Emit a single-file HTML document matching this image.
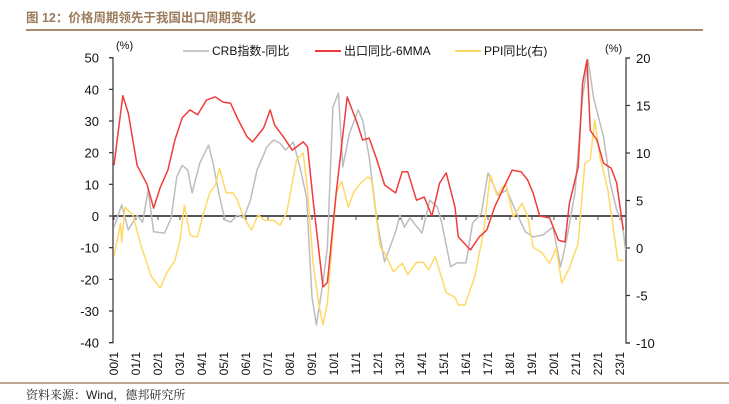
<!DOCTYPE html>
<html><head><meta charset="utf-8">
<style>
html,body{margin:0;padding:0;background:#fff;}
body{width:729px;height:404px;overflow:hidden;position:relative;font-family:"Liberation Sans","Noto Sans CJK SC",sans-serif;}
#title{position:absolute;left:26px;top:7px;font-size:12.5px;font-weight:bold;color:#9b7b5c;font-family:"Liberation Sans","Noto Sans CJK SC",sans-serif;}
#source{position:absolute;left:26px;top:386px;font-size:12px;color:#222;font-family:"Liberation Sans","Noto Serif CJK SC",serif;}
</style></head>
<body>
<div id="title">图 12：价格周期领先于我国出口周期变化</div>
<svg id="chart" width="729" height="404" style="position:absolute;left:0;top:0"></svg>
<div id="source">资料来源：Wind，德邦研究所</div>
<script>
// data (x = decimal years since 2000)
const xTickLabels = ["00/1","01/1","02/1","03/1","04/1","05/1","06/1","07/1","08/1","09/1","10/1","11/1","12/1","13/1","14/1","15/1","16/1","17/1","18/1","19/1","20/1","21/1","22/1","23/1"];
const leftTicks = [50,40,30,20,10,0,-10,-20,-30,-40];
const rightTicks = [20,15,10,5,0,-5,-10];
const exportT = [0,0.4,0.65,1.05,1.5,1.8,2.1,2.45,2.77,3.1,3.45,3.8,4.2,4.6,4.95,5.3,5.65,6.05,6.3,6.8,7.1,7.3,7.7,8.1,8.6,8.8,9.05,9.5,9.7,10.1,10.6,11.05,11.3,11.6,11.95,12.3,12.8,13.1,13.35,13.75,14.1,14.45,14.8,15.1,15.5,15.65,16.2,16.6,16.95,17.3,17.6,18.1,18.5,18.8,19.05,19.35,19.8,20.2,20.5,20.7,21.1,21.3,21.5,21.65,21.95,22.25,22.6,22.85,23.15];
const exportV = [16,38,32.5,16,10,2.5,9,14.5,24,31,33.5,32,36.6,37.6,36,35.6,30.3,25,23.4,27.8,33.5,28.7,25,20.8,23.4,21.8,5,-22.4,-21,7.3,37.6,29.4,24,24.6,17.7,9.8,7.3,14,14,5,6,0,10.4,13.6,2.8,-6.6,-10.7,-6.6,-4.4,2.8,7.3,14.5,14,11.4,7.3,0,-0.6,-7.6,-8.2,4,15.5,42,49.3,27,24,16.7,15.1,10.4,-4.4];
const crbT = [0,0.35,0.65,1.05,1.3,1.55,1.8,2.3,2.6,2.85,3.1,3.35,3.55,3.9,4.3,4.5,4.8,5.05,5.3,5.6,5.9,6.2,6.5,6.7,6.95,7.25,7.55,7.8,8.15,8.45,8.75,9.0,9.2,9.5,9.7,9.95,10.2,10.4,10.7,11.1,11.3,11.6,11.95,12.3,12.8,13.0,13.2,13.45,14.0,14.35,14.7,14.9,15.3,15.6,16.0,16.3,16.7,17.0,17.45,17.85,18.3,18.7,19.05,19.5,19.95,20.3,20.6,20.95,21.3,21.55,21.8,22.25,22.55,22.85,23.1,23.25];
const crbV = [-3.5,3.5,-4.4,0.3,-2,8.2,-5,-5.4,-0.6,12.3,16,14.5,7.3,16.7,22.4,16.7,6,-1.3,-1.9,0.3,-0.6,5,14.5,17.7,21.8,24,23,20.8,23.4,15.5,6,-25.6,-34.4,-21,-9.8,34.4,38.8,15.5,26,33.5,30.3,18.6,-1.3,-14.5,-5,0.3,-3.5,-0.6,-5.4,5,2.8,-2.2,-16,-14.8,-14.8,-2.2,0.9,13.6,6.6,8.2,0.9,-5,-6.6,-6,-3.5,-16,-6.6,7.3,37.6,49.3,37.3,25,10.7,1.9,-1.9,-10.7];
const ppiT = [0,0.3,0.35,0.5,0.85,1.25,1.7,2.1,2.4,2.77,3.0,3.2,3.45,3.6,3.8,4.05,4.35,4.6,4.8,5.1,5.4,5.6,5.9,6.25,6.55,6.85,7.25,7.55,7.85,8.1,8.3,8.6,8.8,9.05,9.3,9.5,9.7,9.95,10.1,10.35,10.65,10.9,11.2,11.55,11.7,12.1,12.3,12.7,13.1,13.35,13.75,14.05,14.3,14.6,15.1,15.5,15.65,15.95,16.4,16.8,17.1,17.4,17.8,18.15,18.55,18.8,19.05,19.45,19.8,20.1,20.35,20.7,21.1,21.4,21.65,21.85,22.1,22.45,22.9,23.15];
const ppiV = [-0.9,2.6,0.6,4.3,3.5,0.1,-3,-4.2,-2.6,-1.3,0.8,4.5,1.4,1.2,1.2,3.5,5.8,6.6,8.4,5.8,5.8,5.1,3.2,1.9,3.5,2.9,2.9,2.4,3.7,6.8,9.3,10,6.1,-1.6,-5.8,-8.1,-5.8,1.6,5.8,7,4.3,5.9,6.8,7.5,7.2,0.1,-0.5,-2.5,-1.6,-2.8,-1.5,-1.5,-2.3,-0.9,-4.7,-5.2,-6,-6,-3,1.7,7.7,5.6,6.8,3.3,4.7,3.3,0.1,-0.5,-1.6,0,-3.7,-2.1,0.5,8.9,9.3,13.5,9.5,6.1,-1.3,-1.3];

const NS="http://www.w3.org/2000/svg";
const svg=document.getElementById('chart');
const X0=114, XPY=22, XL=113, XR=626;
const xs=t=>X0+t*XPY;
const yl=v=>216-(v)*28.5/9;
const yr=v=>248-(v)*9.5;
function mk(tag,attrs){const e=document.createElementNS(NS,tag);for(const k in attrs)e.setAttribute(k,attrs[k]);svg.appendChild(e);return e;}

let e=mk('line',{x1:26,y1:30,x2:703,y2:30,stroke:'#a8896a','stroke-width':2});


e=mk('line',{x1:0,y1:383,x2:729,y2:383,stroke:'#a8896a','stroke-width':1.5});



e=mk('path',{d:`M${XL-4},${yl(50)}H${XL}V${yl(-40)}H${XL-4}`,fill:'none',stroke:'#333','stroke-width':1.2});


e=mk('path',{d:`M${XR+4},${yr(20)}H${XR}V${yr(-10)}H${XR+4}`,fill:'none',stroke:'#333','stroke-width':1.2});


leftTicks.forEach(v=>{
  mk('line',{x1:XL-4,y1:yl(v),x2:XL,y2:yl(v),stroke:'#333','stroke-width':1.2});
  const t=mk('text',{x:XL-14,y:yl(v)+5,'text-anchor':'end','font-size':13,fill:'#111'});
  t.textContent=v;
  
  
});
rightTicks.forEach(v=>{
  mk('line',{x1:XR,y1:yr(v),x2:XR+4,y2:yr(v),stroke:'#333','stroke-width':1.2});
  const t=mk('text',{x:XR+10,y:yr(v)+5,'text-anchor':'start','font-size':13,fill:'#111'});
  t.textContent=v;
  
  
});
e=mk('line',{x1:XL,y1:yl(0),x2:XR,y2:yl(0),stroke:'#555','stroke-width':2});


xTickLabels.forEach((lab,i)=>{
  const x=xs(i);
  mk('line',{x1:x,y1:yl(0),x2:x,y2:yl(0)+4,stroke:'#555','stroke-width':1});
  const t=mk('text',{x:0,y:0,'text-anchor':'end','font-size':12,fill:'#111',transform:`translate(${x+4},352) rotate(-90)`});
  t.textContent=lab;
  
  
});
e=mk('text',{x:116,y:49,'font-size':11,fill:'#111'});e.textContent='(%)';


e=mk('text',{x:605,y:52,'font-size':11,fill:'#111'});e.textContent='(%)';



function series(T,V,yf,color,name){
  const d=T.map((t,i)=>(i?'L':'M')+xs(t).toFixed(1)+','+yf(V[i]).toFixed(1)).join('');
  const p=mk('path',{d,fill:'none',stroke:color,'stroke-width':1.5,'stroke-linejoin':'round'});
  
  
}
series(crbT,crbV,yl,'#bdbdbd','crb-line');
series(ppiT,ppiV,yr,'#ffd966','ppi-line');
series(exportT,exportV,yl,'#f03c3c','export-line');

const leg=[['#c8c8c8','CRB指数-同比',183],['#f03c3c','出口同比-6MMA',315],['#ffd966','PPI同比(右)',455]];
leg.forEach(([c,lab,x])=>{
  const g=document.createElementNS(NS,'g');svg.appendChild(g);
  
  
  const l=document.createElementNS(NS,'line');
  l.setAttribute('x1',x);l.setAttribute('x2',x+26);l.setAttribute('y1',51);l.setAttribute('y2',51);
  l.setAttribute('stroke',c);l.setAttribute('stroke-width',2);g.appendChild(l);
  const t=document.createElementNS(NS,'text');
  t.setAttribute('x',x+29);t.setAttribute('y',55);t.setAttribute('font-size',12);t.setAttribute('fill','#111');
  t.textContent=lab;g.appendChild(t);
});
</script>
</body></html>
